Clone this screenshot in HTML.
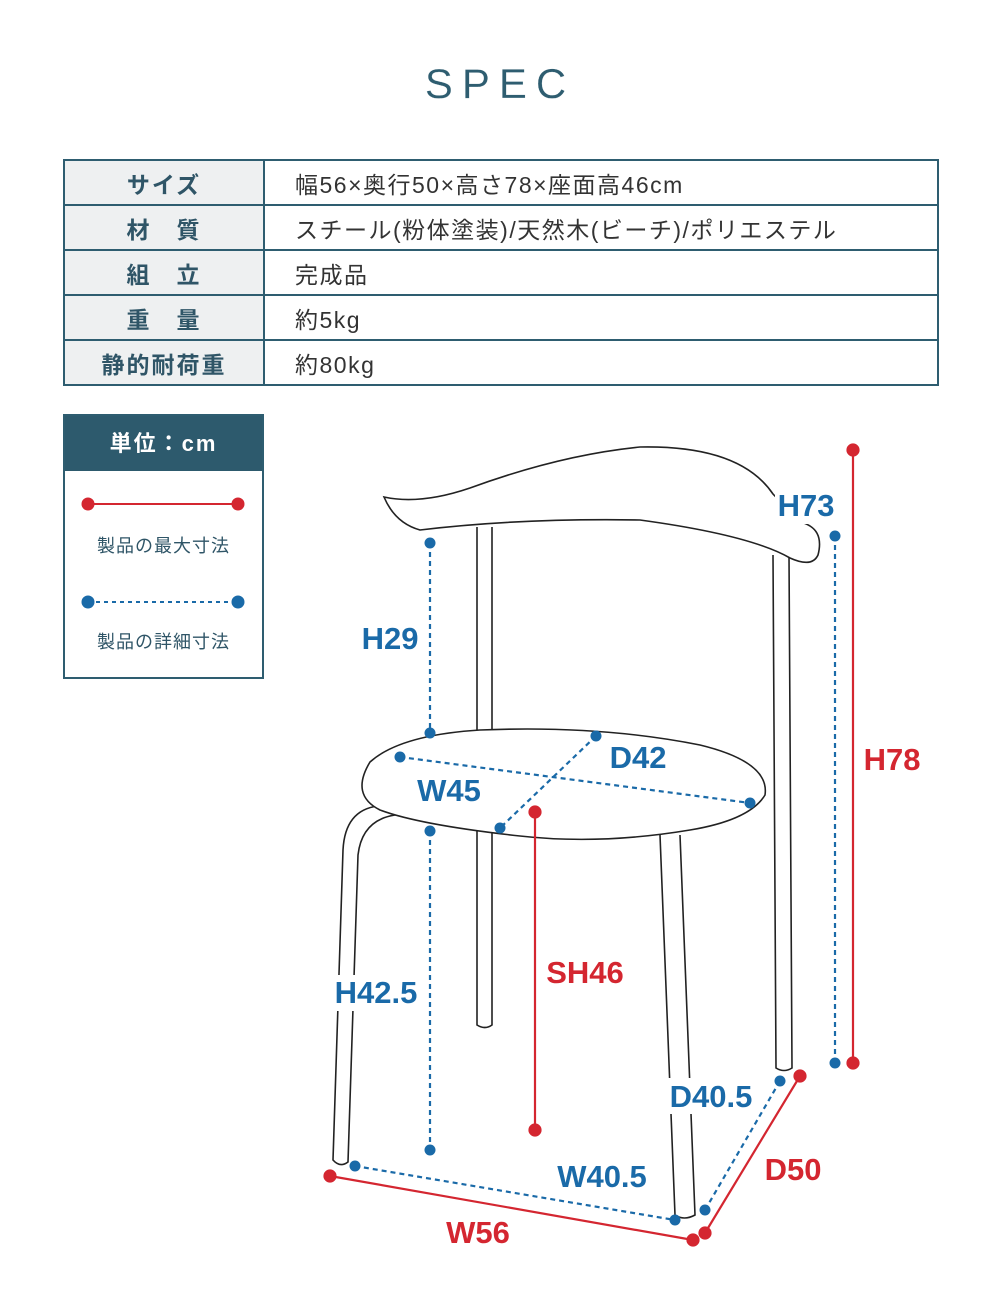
<!DOCTYPE html>
<html><head><meta charset="utf-8"><style>
body{margin:0;width:1000px;height:1300px;background:#fff;position:relative;font-family:"Liberation Sans","Noto Sans CJK JP",sans-serif;overflow:hidden}
.t{position:absolute;left:63px;top:159px;width:876px;border-collapse:collapse}
.t td{border:2px solid #2e5d70;height:43px;font-size:23px;color:#333;padding:0}
.t td.h{background:#eef0f1;width:198px;text-align:center;color:#2f5567;letter-spacing:2px;font-weight:bold}
.t td.v{padding-left:30px;letter-spacing:1.5px}
</style></head><body>
<div style="position:absolute;top:60px;width:1000px;text-align:center;font-size:42px;letter-spacing:9px;color:#2e5d70;font-weight:300;-webkit-text-stroke:0.2px #fff">SPEC</div>
<table class="t">
<tr><td class="h">サイズ</td><td class="v">幅56×奥行50×高さ78×座面高46cm</td></tr>
<tr><td class="h">材　質</td><td class="v">スチール(粉体塗装)/天然木(ビーチ)/ポリエステル</td></tr>
<tr><td class="h">組　立</td><td class="v">完成品</td></tr>
<tr><td class="h">重　量</td><td class="v">約5kg</td></tr>
<tr><td class="h">静的耐荷重</td><td class="v">約80kg</td></tr>
</table>
<div style="position:absolute;left:63px;top:414px;width:197px;height:261px;border:2px solid #2e5d70">
<div style="background:#2d5a6d;color:#fff;height:55px;line-height:55px;text-align:center;font-size:22px;font-weight:bold;letter-spacing:2px">単位：cm</div>
<div style="position:absolute;top:116px;width:197px;text-align:center;font-size:18px;color:#2f5567;letter-spacing:1px">製品の最大寸法</div>
<div style="position:absolute;top:212px;width:197px;text-align:center;font-size:18px;color:#2f5567;letter-spacing:1px">製品の詳細寸法</div>
</div>
<svg width="1000" height="1300" style="position:absolute;left:0;top:0">
<g stroke="#d42630" stroke-width="2" fill="#d42630">
<line x1="88" y1="504" x2="238" y2="504"/><circle cx="88" cy="504" r="5.5"/><circle cx="238" cy="504" r="5.5"/>
</g>
<g stroke="#1a6aa8" stroke-width="2" fill="#1a6aa8">
<line x1="88" y1="602" x2="238" y2="602" stroke-dasharray="4,4"/><circle cx="88" cy="602" r="5.5"/><circle cx="238" cy="602" r="5.5"/>
</g>
<g fill="#fff" stroke="#222" stroke-width="1.6">
<path d="M477 527 L477 1025 Q485 1030 492 1025 L492 527"/>
<path d="M773 555 L776 1068 Q784 1073 792 1068 L789 555"/>
<path d="M660 835 L675 1215 Q684 1221 695 1215 L680 835"/>
<path d="M378 806 Q345 810 343 850 L333 1160 Q340 1168 348 1162 L358 855 Q362 820 395 815 Z"/>
<path d="M370 762 Q400 735 480 730 Q600 725 700 745 Q770 762 765 795 Q750 820 690 830 Q600 845 520 836 Q420 825 380 810 Q350 795 370 762 Z"/>
<path d="M384 497 Q420 505 470 488 Q560 455 640 447 Q740 445 773 494 L800 522 Q825 528 818 555 Q812 568 790 558 Q750 535 640 520 Q520 518 420 530 Q395 523 384 497 Z"/>
</g>
<g stroke="#1a6aa8" stroke-width="2.2" stroke-dasharray="5,4" fill="none">
<line x1="430" y1="543" x2="430" y2="733"/><line x1="430" y1="831" x2="430" y2="1150"/>
<line x1="400" y1="757" x2="750" y2="803"/><line x1="596" y1="736" x2="500" y2="828"/>
<line x1="835" y1="536" x2="835" y2="1063"/><line x1="355" y1="1166" x2="675" y2="1220"/>
<line x1="705" y1="1210" x2="780" y2="1081"/>
</g>
<g fill="#1a6aa8">
<circle cx="430" cy="543" r="5.5"/><circle cx="430" cy="733" r="5.5"/><circle cx="430" cy="831" r="5.5"/><circle cx="430" cy="1150" r="5.5"/>
<circle cx="400" cy="757" r="5.5"/><circle cx="750" cy="803" r="5.5"/><circle cx="596" cy="736" r="5.5"/><circle cx="500" cy="828" r="5.5"/>
<circle cx="835" cy="536" r="5.5"/><circle cx="835" cy="1063" r="5.5"/><circle cx="355" cy="1166" r="5.5"/><circle cx="675" cy="1220" r="5.5"/>
<circle cx="705" cy="1210" r="5.5"/><circle cx="780" cy="1081" r="5.5"/>
</g>
<g stroke="#d42630" stroke-width="2.2" fill="#d42630">
<line x1="535" y1="812" x2="535" y2="1130"/><line x1="853" y1="450" x2="853" y2="1063"/>
<line x1="330" y1="1176" x2="693" y2="1240"/><line x1="705" y1="1233" x2="800" y2="1076"/>
<circle cx="535" cy="812" r="5.5"/><circle cx="535" cy="1130" r="5.5"/><circle cx="853" cy="450" r="5.5"/><circle cx="853" cy="1063" r="5.5"/>
<circle cx="330" cy="1176" r="5.5"/><circle cx="693" cy="1240" r="5.5"/><circle cx="705" cy="1233" r="5.5"/><circle cx="800" cy="1076" r="5.5"/>
</g>
<g font-family="Liberation Sans Narrow, Liberation Sans, sans-serif" font-weight="bold" font-size="31" text-anchor="middle">
<g fill="#1a6aa8">
<rect x="775" y="486" width="62" height="38" fill="#fff"/>
<text x="806" y="516">H73</text><text x="390" y="649">H29</text><text x="449" y="801">W45</text>
<text x="638" y="768">D42</text>
<rect x="332" y="975" width="88" height="36" fill="#fff"/>
<text x="376" y="1003">H42.5</text>
<rect x="667" y="1078" width="90" height="36" fill="#fff"/>
<text x="711" y="1107">D40.5</text><text x="602" y="1187">W40.5</text>
</g>
<g fill="#d42630">
<text x="892" y="770">H78</text><text x="585" y="983">SH46</text><text x="793" y="1180">D50</text><text x="478" y="1243">W56</text>
</g>
</g>
</svg>
</body></html>
